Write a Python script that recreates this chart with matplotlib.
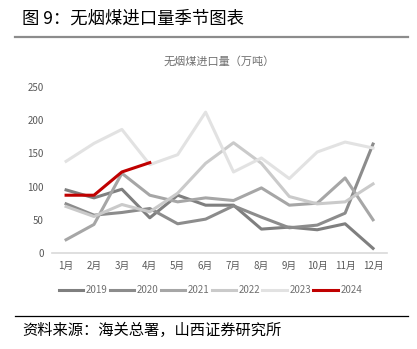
import matplotlib
matplotlib.use("Agg")
import matplotlib.pyplot as plt
from matplotlib.lines import Line2D

plt.rcParams['font.family'] = ['Noto Sans CJK SC', 'DejaVu Sans']

months = ["1月", "2月", "3月", "4月", "5月", "6月", "7月", "8月", "9月", "10月", "11月", "12月"]
y2019 = [95, 83, 96, 53, 87, 72, 72, 36, 39, 35, 44, 7]
y2020 = [74, 57, 61, 67, 44, 51, 71, 54, 38, 42, 60, 164]
y2021 = [20, 43, 120, 87, 77, 83, 79, 98, 72, 75, 113, 50]
y2022 = [70, 55, 73, 62, 90, 135, 166, 135, 85, 74, 77, 104]
y2023 = [138, 165, 186, 133, 148, 212, 122, 143, 112, 152, 167, 158]
y2024 = [87, 87, 122, 136]

series = [("2019", y2019, "#7f7f7f"), ("2020", y2020, "#8c8c8c"),
          ("2021", y2021, "#a6a6a6"), ("2022", y2022, "#cacaca"),
          ("2023", y2023, "#e2e2e2"), ("2024", y2024, "#c00000")]

fig = plt.figure(figsize=(4.17, 3.49), dpi=100)
ax = fig.add_axes([0.125, 0.275, 0.803, 0.476])

x = list(range(1, 13))
for name, vals, color in series:
    ax.plot(x[:len(vals)], vals, color=color, lw=2.2, label=name)

ax.set_xlim(0.5, 12.5)
ax.set_ylim(0, 250)
ax.set_yticks([0, 50, 100, 150, 200, 250])
ax.set_xticks(x)
ax.set_xticklabels(months)
ax.tick_params(length=0, labelsize=7, colors="#595959", pad=6)
for s in ["top", "right", "left"]:
    ax.spines[s].set_visible(False)
ax.spines["bottom"].set_color("#d9d9d9")
ax.spines["bottom"].set_linewidth(1.2)

ax.set_title("无烟煤进口量（万吨）", fontsize=8, color="#707070", pad=16)

handles = [Line2D([0], [0], color=c, lw=2.2) for _, _, c in series]
fig.legend(handles, [n for n, _, _ in series], loc="center", bbox_to_anchor=(0.505, 0.168),
           ncol=6, frameon=False, fontsize=7, handlelength=2.5, handletextpad=0.3,
           columnspacing=0.2, labelcolor="#707070")

fig.text(0.053, 0.948, "图 9：无烟煤进口量季节图表", fontsize=12.5, va="center")
fig.add_artist(Line2D([0.036, 0.978], [0.894, 0.894], color="#8c8c8c", lw=1.6))
fig.add_artist(Line2D([0.036, 0.978], [0.095, 0.095], color="#000000", lw=0.9))
fig.text(0.053, 0.052, "资料来源：海关总署，山西证券研究所", fontsize=11, va="center")

fig.savefig("out.png", dpi=100)
